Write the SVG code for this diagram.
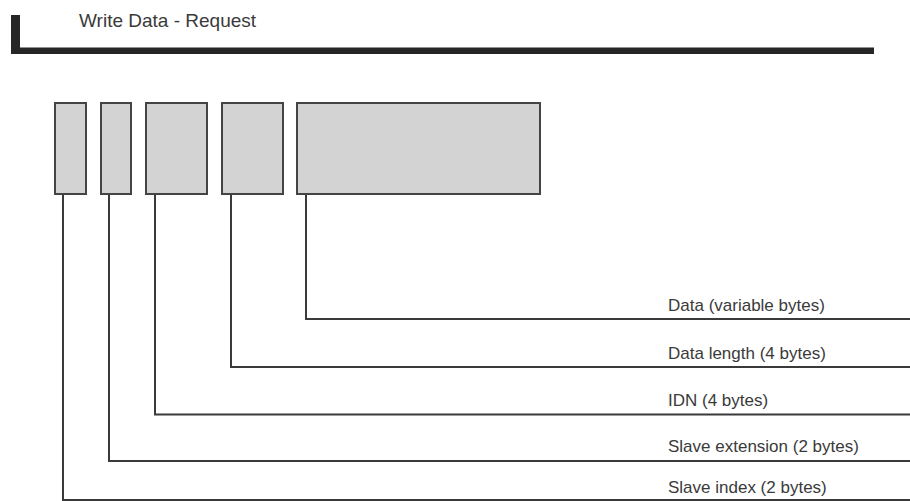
<svg xmlns="http://www.w3.org/2000/svg" width="910" height="501" viewBox="0 0 910 501">
<style>
.box{fill:#d3d3d3;stroke:#444;stroke-width:2}
.con{fill:none;stroke:#3a3a3a;stroke-width:2}
.lbl{font-family:"Liberation Sans",Arial,sans-serif;font-size:17px;fill:#3a3a3a}
.title{font-family:"Liberation Sans",Arial,sans-serif;font-size:19px;fill:#3a3a3a}
</style>
<rect width="910" height="501" fill="#fff"/>
<g id="header">
<rect x="11" y="15" width="9" height="39" fill="#262626"/>
<rect x="11" y="47.5" width="863" height="6.5" fill="#262626"/>
<text class="title" x="79" y="27">Write Data - Request</text>
</g>
<g id="connectors">
<polyline class="con" points="306,194 306,319 910,319"/>
<polyline class="con" points="231,194 231,367 910,367"/>
<polyline class="con" points="155,194 155,414.5 910,414.5"/>
<polyline class="con" points="109,194 109,461 910,461"/>
<polyline class="con" points="63,194 63,500 910,500"/>
</g>
<g id="slave-index"><rect class="box" x="55" y="103" width="31" height="91"/></g>
<g id="slave-extension"><rect class="box" x="101" y="103" width="30" height="91"/></g>
<g id="idn"><rect class="box" x="146" y="103" width="61" height="91"/></g>
<g id="data-length"><rect class="box" x="222" y="103" width="61" height="91"/></g>
<g id="data"><rect class="box" x="297" y="103" width="243" height="91"/></g>
<g id="labels">
<text class="lbl" x="668" y="311">Data (variable bytes)</text>
<text class="lbl" x="668" y="359">Data length (4 bytes)</text>
<text class="lbl" x="668" y="406">IDN (4 bytes)</text>
<text class="lbl" x="668" y="452">Slave extension (2 bytes)</text>
<text class="lbl" x="668" y="493">Slave index (2 bytes)</text>
</g>
</svg>
